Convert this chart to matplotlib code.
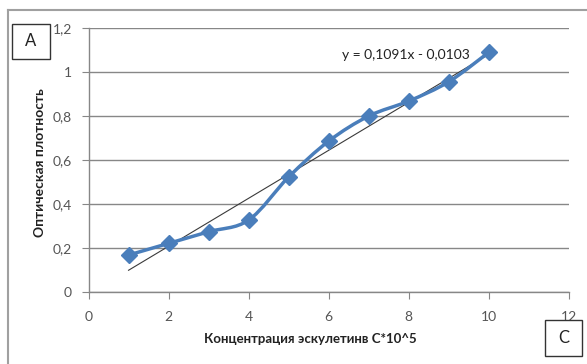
import matplotlib
matplotlib.use('Agg')
import matplotlib.pyplot as plt
import numpy as np
from matplotlib.path import Path
from matplotlib.patches import PathPatch, Rectangle
from matplotlib.lines import Line2D
from matplotlib.ticker import FuncFormatter

plt.rcParams['font.family'] = ['Lato', 'DejaVu Sans']

# data
conc = [1, 2, 3, 4, 5, 6, 7, 8, 9, 10]
density = [0.168, 0.221, 0.274, 0.327, 0.523, 0.686, 0.800, 0.868, 0.956, 1.090]
slope = 0.1091
intercept = -0.0103
eq_text = 'y = 0,1091x - 0,0103'
xlabel = 'Концентрация эскулетинв C*10^5'
ylabel = 'Оптическая плотность'

blue = '#4a7ebb'
grey = '#878787'

fig = plt.figure(figsize=(5.87, 3.64), dpi=100)
ax = fig.add_axes([88.5 / 587, 1 - 292 / 364, (569 - 88.5) / 587, (292 - 28) / 364])

ax.set_xlim(0, 12)
ax.set_ylim(0, 1.2)
ax.set_xticks(np.arange(0, 13, 2))
ax.set_yticks(np.arange(0, 1.21, 0.2))
ax.yaxis.grid(True, color=grey, lw=1)
ax.set_axisbelow(True)
for s in ['top', 'right']:
    ax.spines[s].set_visible(False)
for s in ['left', 'bottom']:
    ax.spines[s].set_color(grey)
    ax.spines[s].set_linewidth(1)
ax.tick_params(direction='out', length=5, color=grey, labelsize=10, labelcolor='#555555')
ax.tick_params(axis='x', pad=9)
ax.tick_params(axis='y', pad=7)
fmt = FuncFormatter(lambda v, p: ('%g' % round(v, 2)).replace('.', ','))
ax.xaxis.set_major_formatter(fmt)
ax.yaxis.set_major_formatter(fmt)

# trendline
tx = np.array([conc[0], conc[-1]])
ax.plot(tx, slope * tx + intercept, color='#3a3a3a', lw=0.8, zorder=3)

# smoothed line (catmull-rom style bezier like excel)
pts = np.column_stack([conc, density])
verts = [tuple(pts[0])]
codes = [Path.MOVETO]
n = len(pts)
for i in range(n - 1):
    p0 = pts[max(i - 1, 0)]
    p1 = pts[i]
    p2 = pts[i + 1]
    p3 = pts[min(i + 2, n - 1)]
    c1 = p1 + (p2 - p0) / 6.0
    c2 = p2 - (p3 - p1) / 6.0
    verts += [tuple(c1), tuple(c2), tuple(p2)]
    codes += [Path.CURVE4] * 3
ax.add_patch(PathPatch(Path(verts, codes), facecolor='none', edgecolor=blue, lw=2.5, zorder=4))
ax.plot(conc, density, ls='none', marker='D', ms=8, color=blue, zorder=5)

ax.text(7.92, 1.077, eq_text, ha='center', va='center', fontsize=10, color='#222222')

fig.text(310 / 587, 1 - 339 / 364, xlabel, ha='center', va='center', fontsize=9.5,
         fontweight='bold', color='#222222')
fig.text(40 / 587, 1 - 163 / 364, ylabel, ha='center', va='center', rotation=90,
         fontsize=10, fontweight='bold', color='#222222')

# chart frame (top and left edges visible)
fig.add_artist(Line2D([8 / 587, 1], [1 - 10 / 364, 1 - 10 / 364], color='#a0a0a0', lw=1.5))
fig.add_artist(Line2D([8 / 587, 8 / 587], [0, 1 - 10 / 364], color='#a0a0a0', lw=1.5))

# label boxes A and C
for x0, y0, x1, y1, lab in [(12, 24, 50, 59, 'A'), (545, 320, 582, 356, 'C')]:
    fig.add_artist(Rectangle((x0 / 587, 1 - y1 / 364), (x1 - x0) / 587, (y1 - y0) / 364,
                             facecolor='white', edgecolor='#333333', lw=1,
                             transform=fig.transFigure))
    fig.text((x0 + x1) / 2 / 587, 1 - (y0 + y1) / 2 / 364, lab, ha='center', va='center',
             fontsize=12, color='#222222')

fig.savefig('out.png', dpi=100)
